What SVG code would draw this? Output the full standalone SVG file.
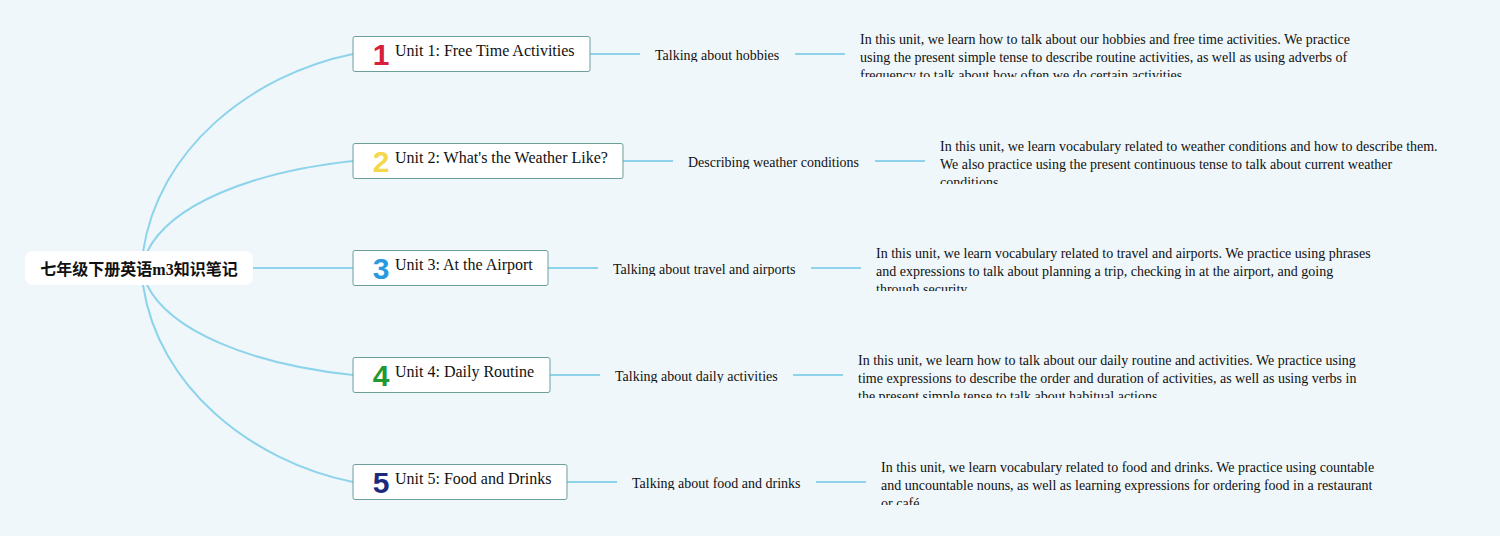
<svg xmlns="http://www.w3.org/2000/svg" width="1500" height="536" viewBox="0 0 1500 536">
<style>
.bg{fill:#eff7fa}
.con{stroke:#8dd3ec;stroke-width:2;fill:none}
.box{fill:#ffffff;stroke:#6a9f9a;stroke-width:1}
.root{fill:#ffffff}
.rt{font-family:"Liberation Serif","Noto Sans CJK SC",serif;font-size:16px;font-weight:bold;fill:#111}
.ut{font-family:"Liberation Serif",serif;font-size:16px;fill:#111}
.st{font-family:"Liberation Serif",serif;font-size:14px;fill:#111}
.dt{font-family:"Liberation Serif",serif;font-size:14px;fill:#111}
.num{font-family:"Liberation Sans",sans-serif;font-size:30px;font-weight:900;text-anchor:middle}
</style>
<defs>
<clipPath id="cs1"><rect x="640" y="40" width="160" height="22"/></clipPath>
<clipPath id="cd1"><rect x="855" y="28" width="600" height="49"/></clipPath>
<clipPath id="cs2"><rect x="673" y="147" width="210" height="22"/></clipPath>
<clipPath id="cd2"><rect x="935" y="135" width="560" height="49"/></clipPath>
<clipPath id="cs3"><rect x="598" y="254" width="210" height="22"/></clipPath>
<clipPath id="cd3"><rect x="871" y="242" width="600" height="49"/></clipPath>
<clipPath id="cs4"><rect x="600" y="361" width="200" height="22"/></clipPath>
<clipPath id="cd4"><rect x="853" y="349" width="600" height="49"/></clipPath>
<clipPath id="cs5"><rect x="617" y="468" width="200" height="22"/></clipPath>
<clipPath id="cd5"><rect x="876" y="456" width="600" height="49"/></clipPath>
</defs>
<rect class="bg" x="0" y="0" width="1500" height="536"/>
<g id="connectors">
<path class="con" d="M143,252 C158,150 250,75 353,54"/>
<path class="con" d="M147,252 C170,205 250,172 353,161"/>
<path class="con" d="M253,268 L353,268"/>
<path class="con" d="M147,285 C170,331 250,364 353,375"/>
<path class="con" d="M143,285 C158,386 250,461 353,482"/>
<path class="con" d="M590,54 H640 M795,54 H845"/>
<path class="con" d="M623,161 H673 M875,161 H925"/>
<path class="con" d="M548,268 H598 M811,268 H861"/>
<path class="con" d="M550,375 H600 M793,375 H843"/>
<path class="con" d="M567,482 H617 M816,482 H866"/>
</g>
<g id="root">
<rect class="root" x="25" y="251" width="228" height="34" rx="8"/>
<text class="rt" x="139" y="275" text-anchor="middle">七年级下册英语m3知识笔记</text>
</g>
<g id="unit1">
<rect class="box" x="353" y="36.5" width="237" height="35" rx="2"/>
<text class="num" x="381" y="65" fill="#d8203a">1</text>
<text class="ut" x="395" y="56">Unit 1: Free Time Activities</text>
</g>
<g id="sub1"><text class="st" x="655" y="60" clip-path="url(#cs1)">Talking about hobbies</text></g>
<g id="desc1" clip-path="url(#cd1)">
<text class="dt" x="860" y="44">In this unit, we learn how to talk about our hobbies and free time activities. We practice</text>
<text class="dt" x="860" y="62">using the present simple tense to describe routine activities, as well as using adverbs of</text>
<text class="dt" x="860" y="80">frequency to talk about how often we do certain activities.</text>
</g>
<g id="unit2">
<rect class="box" x="353" y="143.5" width="270" height="35" rx="2"/>
<text class="num" x="381" y="172" fill="#f3d84e">2</text>
<text class="ut" x="395" y="163">Unit 2: What's the Weather Like?</text>
</g>
<g id="sub2"><text class="st" x="688" y="167" clip-path="url(#cs2)">Describing weather conditions</text></g>
<g id="desc2" clip-path="url(#cd2)">
<text class="dt" x="940" y="151">In this unit, we learn vocabulary related to weather conditions and how to describe them.</text>
<text class="dt" x="940" y="169">We also practice using the present continuous tense to talk about current weather</text>
<text class="dt" x="940" y="187">conditions.</text>
</g>
<g id="unit3">
<rect class="box" x="353" y="250.5" width="195" height="35" rx="2"/>
<text class="num" x="381" y="279" fill="#2a9ae0">3</text>
<text class="ut" x="395" y="270">Unit 3: At the Airport</text>
</g>
<g id="sub3"><text class="st" x="613" y="274" clip-path="url(#cs3)">Talking about travel and airports</text></g>
<g id="desc3" clip-path="url(#cd3)">
<text class="dt" x="876" y="258">In this unit, we learn vocabulary related to travel and airports. We practice using phrases</text>
<text class="dt" x="876" y="276">and expressions to talk about planning a trip, checking in at the airport, and going</text>
<text class="dt" x="876" y="294">through security.</text>
</g>
<g id="unit4">
<rect class="box" x="353" y="357.5" width="197" height="35" rx="2"/>
<text class="num" x="381" y="386" fill="#1f9a30">4</text>
<text class="ut" x="395" y="377">Unit 4: Daily Routine</text>
</g>
<g id="sub4"><text class="st" x="615" y="381" clip-path="url(#cs4)">Talking about daily activities</text></g>
<g id="desc4" clip-path="url(#cd4)">
<text class="dt" x="858" y="365">In this unit, we learn how to talk about our daily routine and activities. We practice using</text>
<text class="dt" x="858" y="383">time expressions to describe the order and duration of activities, as well as using verbs in</text>
<text class="dt" x="858" y="401">the present simple tense to talk about habitual actions.</text>
</g>
<g id="unit5">
<rect class="box" x="353" y="464.5" width="214" height="35" rx="2"/>
<text class="num" x="381" y="493" fill="#1b2a7c">5</text>
<text class="ut" x="395" y="484">Unit 5: Food and Drinks</text>
</g>
<g id="sub5"><text class="st" x="632" y="488" clip-path="url(#cs5)">Talking about food and drinks</text></g>
<g id="desc5" clip-path="url(#cd5)">
<text class="dt" x="881" y="472">In this unit, we learn vocabulary related to food and drinks. We practice using countable</text>
<text class="dt" x="881" y="490">and uncountable nouns, as well as learning expressions for ordering food in a restaurant</text>
<text class="dt" x="881" y="508">or café.</text>
</g>
</svg>
